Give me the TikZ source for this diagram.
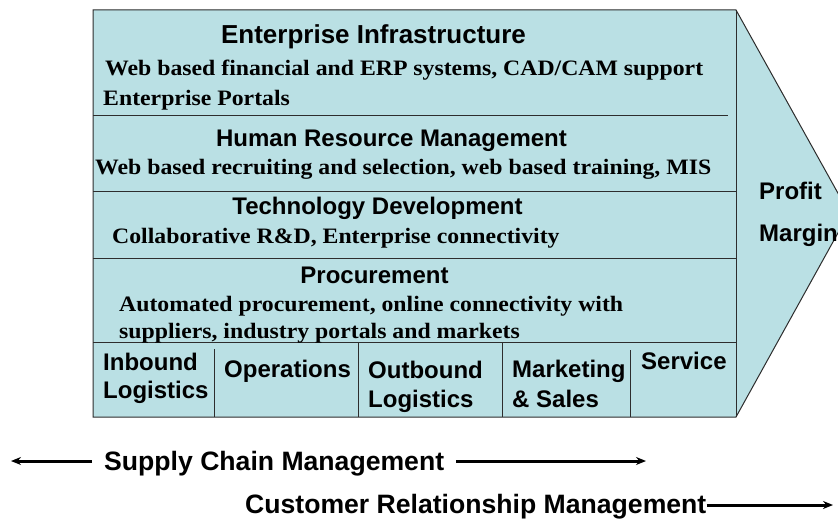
\documentclass[tikz,border=0pt]{standalone}
\usepackage{fontspec}
\setmainfont{Liberation Serif}
\newfontfamily\headfont{Liberation Sans}
\newfontfamily\bodyfont[FakeStretch=1.08]{Liberation Serif}
\usetikzlibrary{arrows.meta}
\definecolor{chainfill}{RGB}{186,224,228}
\definecolor{chainline}{RGB}{45,45,45}

\begin{document}
\begin{tikzpicture}[x=1pt, y=-1pt, >={Stealth[length=10pt, width=8pt]},
    heading/.style={font=\headfont\bfseries\fontsize{24}{28}\selectfont, inner sep=0pt, anchor=base},
    detail/.style={font=\bodyfont\bfseries\fontsize{22}{26}\selectfont, inner sep=0pt, anchor=base west},
    primary/.style={font=\headfont\bfseries\fontsize{24}{28}\selectfont, inner sep=0pt, anchor=base west},
    span/.style={font=\headfont\bfseries\fontsize{26.6}{30}\selectfont, inner sep=0pt, anchor=base west},
    rule/.style={chainline, line width=1pt},
    flow/.style={->, line width=3pt}]
    % Page size
    \useasboundingbox (0,0) rectangle (838,519);
    \clip (0,0) rectangle (838,519);
    \def\L{93}   % left edge
    \def\R{736}  % right edge of the box
    \def\B{417}  % bottom edge

    % --- Value chain arrow (tip runs off the page) ---
    \draw[rule, fill=chainfill] (\L,10) -- (\R,10) -- (849,213) -- (\R,\B) -- (\L,\B) -- cycle;
    \draw[rule] (\R,10) -- (\R,\B);

    % --- Support activity rows ---
    \draw[rule] (\L,115.7) -- (728,115.7);
    \foreach \y in {191,258,342}
        \draw[rule] (\L,\y) -- (\R,\y);

    % --- Primary activity columns ---
    \foreach \x/\y in {214/349, 358/342, 502/342, 630/350}
        \draw[rule] (\x,\y) -- (\x,\B);

    % --- Support activities ---
    \node[heading, font=\headfont\bfseries\fontsize{26}{30}\selectfont] (infra) at (373.5,44) {Enterprise Infrastructure};
    \node[detail] (infra1) at (105,76) {Web based financial and ERP systems, CAD/CAM support};
    \node[detail] (infra2) at (103,105) {Enterprise Portals};

    \node[heading] (hrm) at (391.5,146) {Human Resource Management};
    \node[detail] (hrm1) at (95,174) {Web based recruiting and selection, web based training, MIS};

    \node[heading] (tech) at (377.5,214) {Technology Development};
    \node[detail] (tech1) at (112,243) {Collaborative R\&D, Enterprise connectivity};

    \node[heading] (proc) at (374.5,283) {Procurement};
    \node[detail] (proc1) at (119,311) {Automated procurement, online connectivity with};
    \node[detail] (proc2) at (119,338) {suppliers, industry portals and markets};

    % --- Primary activities ---
    \node[primary] (inb1) at (103,370) {Inbound};
    \node[primary] (inb2) at (103,398) {Logistics};
    \node[primary] (ops) at (224,377) {Operations};
    \node[primary] (outb1) at (368,378) {Outbound};
    \node[primary] (outb2) at (368,407) {Logistics};
    \node[primary] (mkt1) at (512,377) {Marketing};
    \node[primary] (mkt2) at (512,407) {\& Sales};
    \node[primary] (serv) at (641,369) {Service};

    % --- Margin ---
    \node[primary] (profit) at (759,199) {Profit};
    \node[primary] (margin) at (759,241) {Margin};

    % --- Management spans ---
    \node[span] (scm) at (104,470) {Supply Chain Management};
    \coordinate (scmA) at (92,461);
    \coordinate (scmB) at (11,461);
    \coordinate (scmC) at (456,461);
    \coordinate (scmD) at (646,461);
    \draw[flow] (scmA) -- (scmB);
    \draw[flow] (scmC) -- (scmD);

    \node[span] (crm) at (245,513) {Customer Relationship Management};
    \coordinate (crmA) at (crm.east |- 0,505);
    \coordinate (crmB) at (833,505);
    \draw[flow] (crmA) -- (crmB);
\end{tikzpicture}
\end{document}
